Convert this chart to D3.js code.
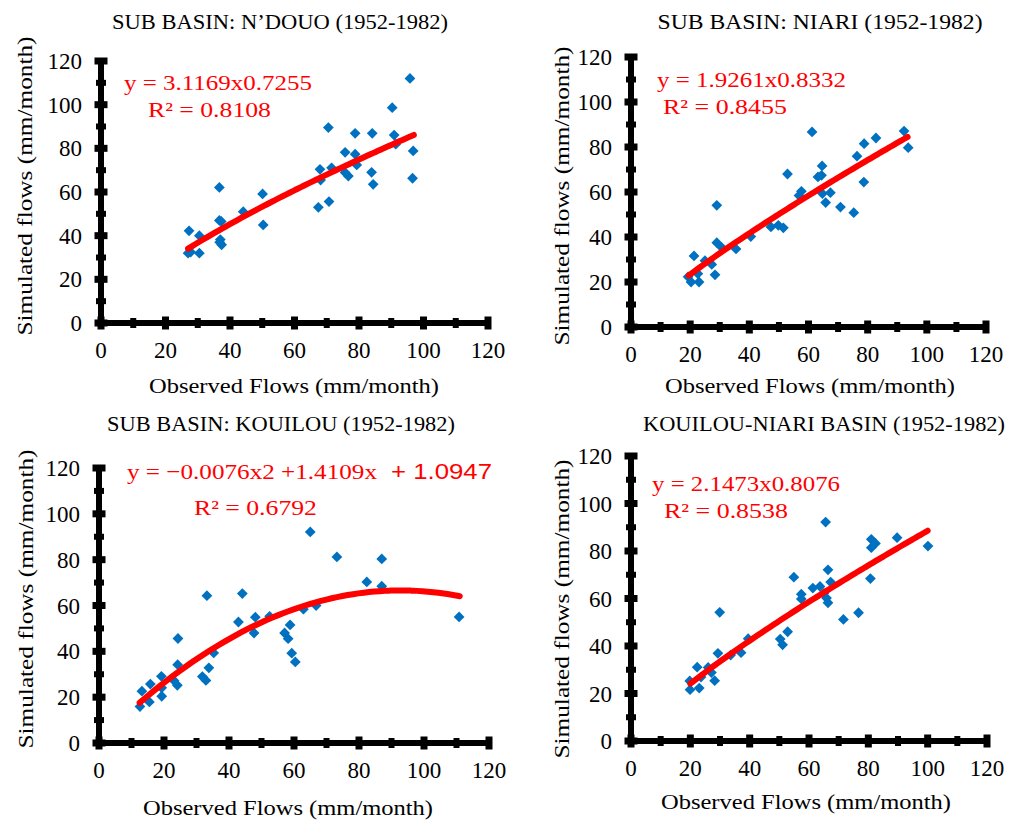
<!DOCTYPE html>
<html>
<head>
<meta charset="utf-8">
<script src="https://cdn.jsdelivr.net/npm/d3@7"></script>
<style>
  body { margin: 0; background: #fff; }
  svg text { font-family: "Liberation Serif", "DejaVu Serif", serif; }
</style>
</head>
<body>
<div id="chart"></div>
<script>
// ---- data (observed vs simulated, mm/month)
var ndouoObs = [27.3,27.0,27.8,30.5,30.5,36.7,36.7,37.3,37.0,37.4,36.8,44.1,50.1,50.3,67.4,67.9,68.1,70.5,70.7,71.5,75.7,75.7,76.7,78.8,78.8,79.3,84.1,83.9,84.4,90.3,90.9,91.4,95.8,96.8,96.6];
var ndouoSim = [42.2,32.0,32.5,32.0,40.0,62.1,47.0,46.5,38.2,35.8,37.0,51.0,59.1,44.9,53.0,70.4,65.5,89.5,55.6,71.1,78.2,68.9,67.3,86.9,77.3,72.4,86.9,69.0,63.5,98.6,86.1,81.9,112.0,78.8,66.3];

var niariObs = [19.3,20.3,21.3,23.0,22.6,25.0,27.3,28.4,29.0,29.0,30.6,35.5,40.5,47.3,49.8,51.5,52.9,56.8,57.6,61.2,63.2,64.4,64.6,64.7,65.8,67.4,70.8,75.3,76.4,78.7,78.8,82.8,92.3,93.7];
var niariSim = [22.3,20.0,31.6,20.0,23.7,29.5,27.8,23.2,54.1,37.5,35.4,34.7,40.2,44.5,45.2,44.1,68.0,58.4,60.3,86.7,66.7,67.4,71.6,59.3,55.3,59.7,53.3,50.8,75.9,64.4,81.5,84.0,87.1,79.7];

var kouilouObs = [12.6,13.2,15.5,15.8,19.2,19.3,19.3,23.1,24.1,24.3,24.2,31.8,32.9,33.2,33.8,35.3,42.9,44.1,47.7,48.1,52.5,57.1,58.2,58.8,59.3,60.4,62.9,65.0,66.8,73.2,82.4,87.0,87.0,110.8];
var kouilouSim = [15.9,22.6,17.9,25.7,29.1,20.4,24.1,27.2,25.2,45.6,34.2,29.0,27.3,64.3,32.8,39.3,52.8,65.2,48.0,54.9,55.3,48.0,45.5,51.5,39.2,35.4,58.4,92.1,60.0,81.2,70.3,80.3,68.4,55.0];

var basinObs = [19.8,19.9,22.3,23.0,23.6,26.0,27.1,28.2,29.9,29.3,33.6,37.1,39.5,50.3,51.1,52.8,54.9,57.4,57.4,61.3,63.7,65.6,66.4,65.0,65.9,66.4,67.3,71.6,76.7,81.0,81.0,82.4,80.7,89.7,100.1];
var basinSim = [25.3,21.6,31.1,22.3,26.9,31.0,28.8,25.4,54.2,36.9,36.2,37.2,43.1,42.9,40.5,46.0,69.0,61.8,59.8,64.4,65.1,92.2,72.1,62.2,60.2,58.2,66.9,51.2,54.0,84.9,81.4,83.2,68.4,85.6,82.1];

// trend lines as printed on each panel
var powerCoef = { ndouo: [3.1169, 0.7255], niari: [1.9261, 0.8332], basin: [2.1473, 0.8076] };
var polyCoef = [-0.0076, 1.4109, 1.0947];
var trendRange = { ndouo: [27, 97], niari: [19.5, 93.5], kouilou: [12.5, 111], basin: [20, 100] };

var titles = ["SUB BASIN: N\u2019DOUO (1952-1982)", "SUB BASIN: NIARI (1952-1982)",
              "SUB BASIN: KOUILOU (1952-1982)", "KOUILOU-NIARI BASIN (1952-1982)"];
var equations = ["y = 3.1169x0.7255", "y = 1.9261x0.8332", "y = \u22120.0076x2 +1.4109x", "y = 2.1473x0.8076"];
var r2Labels = ["R\u00b2 = 0.8108", "R\u00b2 = 0.8455", "R\u00b2 = 0.6792", "R\u00b2 = 0.8538"];
var xTitle = "Observed Flows (mm/month)";
var yTitle = "Simulated flows (mm/month)";
var axisTicks = d3.range(0, 121, 10);

var W = 1016, H = 822;
var svg = d3.select("#chart").append("svg")
    .attr("width", W).attr("height", H);

var panels = [
  { obs: ndouoObs, sim: ndouoSim, f: x => powerCoef.ndouo[0] * Math.pow(x, powerCoef.ndouo[1]), range: trendRange.ndouo,
    box: [101, 488, 323, 61], title: [280, 29, 336], xlab: [294, 393], ylab: [32, 186],
    eq: [124, 90, 188], r2: [148, 117, 123] },
  { obs: niariObs, sim: niariSim, f: x => powerCoef.niari[0] * Math.pow(x, powerCoef.niari[1]), range: trendRange.niari,
    box: [631, 986, 327, 57], title: [820, 29, 325], xlab: [810, 393], ylab: [569, 196],
    eq: [657, 87, 189], r2: [663, 114, 124] },
  { obs: kouilouObs, sim: kouilouSim, f: x => polyCoef[0] * x * x + polyCoef[1] * x + polyCoef[2], range: trendRange.kouilou,
    box: [99, 489, 743, 468], title: [281, 431, 348], xlab: [288, 815], ylab: [33, 599],
    eq: [127, 479, 250], r2: [194, 515, 123], extra: "+ 1.0947" },
  { obs: basinObs, sim: basinSim, f: x => powerCoef.basin[0] * Math.pow(x, powerCoef.basin[1]), range: trendRange.basin,
    box: [631, 987, 741, 456], title: [824, 431, 362], xlab: [806, 809], ylab: [569, 609],
    eq: [652, 491, 188], r2: [664, 518, 124] }
];

panels.forEach(function(p, i) {
  var g = svg.append("g");
  var x = d3.scaleLinear().domain([0, 120]).range([p.box[0], p.box[1]]);
  var y = d3.scaleLinear().domain([0, 120]).range([p.box[2], p.box[3]]);

  // title
  g.append("text").attr("x", p.title[0]).attr("y", p.title[1])
    .attr("text-anchor", "middle").attr("font-size", 22)
    .attr("textLength", p.title[2]).attr("lengthAdjust", "spacingAndGlyphs")
    .text(titles[i]);

  // heavy axis lines
  g.append("line").attr("x1", x(0)).attr("x2", x(120)).attr("y1", y(0)).attr("y2", y(0))
    .attr("stroke", "#000").attr("stroke-width", 6);
  g.append("line").attr("x1", x(0)).attr("x2", x(0)).attr("y1", y(0)).attr("y2", y(120))
    .attr("stroke", "#000").attr("stroke-width", 6);

  // tick marks: crossing bars, wider on the 20s
  g.selectAll(".xt").data(axisTicks).enter().append("rect")
    .attr("x", d => x(d) - (d % 20 === 0 ? 3.5 : 3))
    .attr("y", d => y(0) - (d % 20 === 0 ? 6.5 : 5))
    .attr("width", d => d % 20 === 0 ? 7 : 6)
    .attr("height", d => d % 20 === 0 ? 13 : 10)
    .attr("fill", "#000");
  g.selectAll(".yt").data(axisTicks).enter().append("rect")
    .attr("x", d => x(0) - (d % 20 === 0 ? 6.5 : 5))
    .attr("y", d => y(d) - (d % 20 === 0 ? 3.5 : 3))
    .attr("width", d => d % 20 === 0 ? 13 : 10)
    .attr("height", d => d % 20 === 0 ? 7 : 6)
    .attr("fill", "#000");

  // tick labels
  var labTicks = d3.range(0, 121, 20);
  g.selectAll(".xl").data(labTicks).enter().append("text")
    .attr("x", d => x(d)).attr("y", y(0) + 27).attr("dy", "0.35em")
    .attr("text-anchor", "middle").attr("font-size", 23).text(d => d);
  g.selectAll(".yl").data(labTicks).enter().append("text")
    .attr("x", x(0) - 19).attr("y", d => y(d)).attr("dy", "0.35em")
    .attr("text-anchor", "end").attr("font-size", 23).text(d => d);

  // axis titles
  g.append("text").attr("x", p.xlab[0]).attr("y", p.xlab[1])
    .attr("text-anchor", "middle").attr("font-size", 22)
    .attr("textLength", 290).attr("lengthAdjust", "spacingAndGlyphs").text(xTitle);
  g.append("text").attr("transform", "translate(" + p.ylab[0] + "," + p.ylab[1] + ") rotate(-90)")
    .attr("text-anchor", "middle").attr("font-size", 22)
    .attr("textLength", 299).attr("lengthAdjust", "spacingAndGlyphs").text(yTitle);

  // points
  var pts = p.obs.map((v, k) => [v, p.sim[k]]);
  g.selectAll(".pt").data(pts).enter().append("path")
    .attr("d", d3.symbol().type(d3.symbolSquare).size(58))
    .attr("transform", d => "translate(" + x(d[0]) + "," + y(d[1]) + ") rotate(45)")
    .attr("fill", "#0070C0");

  // trend line
  var xs = d3.range(p.range[0], p.range[1] + 0.01, (p.range[1] - p.range[0]) / 60);
  g.append("path").datum(xs)
    .attr("d", d3.line().x(d => x(d)).y(d => y(p.f(d))).curve(d3.curveMonotoneX))
    .attr("fill", "none").attr("stroke", "#FF0000").attr("stroke-width", 6)
    .attr("stroke-linecap", "round");

  // equation labels
  g.append("text").attr("x", p.eq[0]).attr("y", p.eq[1]).attr("fill", "#FF0000")
    .attr("font-size", 22).attr("textLength", p.eq[2]).attr("lengthAdjust", "spacingAndGlyphs")
    .text(equations[i]);
  if (p.extra) {
    g.append("text").attr("x", 391).attr("y", p.eq[1]).attr("fill", "#FF0000")
      .style("font-family", "'Liberation Sans', Arial, sans-serif")
      .attr("font-size", 22).attr("textLength", 101).attr("lengthAdjust", "spacingAndGlyphs")
      .text(p.extra);
  }
  g.append("text").attr("x", p.r2[0]).attr("y", p.r2[1]).attr("fill", "#FF0000")
    .attr("font-size", 22).attr("textLength", p.r2[2]).attr("lengthAdjust", "spacingAndGlyphs")
    .text(r2Labels[i]);
});
</script>
</body>
</html>
